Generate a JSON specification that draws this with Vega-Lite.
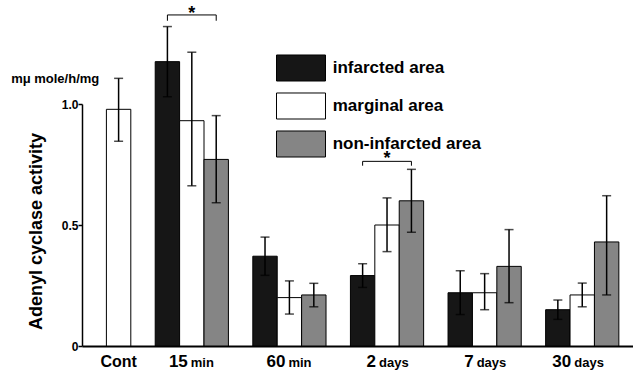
{
  "$schema": "https://vega.github.io/schema/vega-lite/v6.json",
  "width": 551,
  "height": 242,
  "autosize": "none",
  "padding": {"left": 82, "top": 104, "right": 0, "bottom": 26},
  "background": "white",
  "config": {
    "view": {"stroke": null},
    "font": "Liberation Sans",
    "text": {"font": "Liberation Sans", "fontWeight": "bold", "color": "black"}
  },
  "datasets": {
    "bars": [
      {"bar": "Cont|marginal area", "time": "Cont", "area": "marginal area", "mean": 0.978, "lo": 0.846, "hi": 1.106},
      {"bar": "15 min|infarcted area", "time": "15 min", "area": "infarcted area", "mean": 1.175, "lo": 1.03, "hi": 1.32},
      {"bar": "15 min|marginal area", "time": "15 min", "area": "marginal area", "mean": 0.931, "lo": 0.662, "hi": 1.214},
      {"bar": "15 min|non-infarcted area", "time": "15 min", "area": "non-infarcted area", "mean": 0.771, "lo": 0.592, "hi": 0.952},
      {"bar": "60 min|infarcted area", "time": "60 min", "area": "infarcted area", "mean": 0.371, "lo": 0.292, "hi": 0.45},
      {"bar": "60 min|marginal area", "time": "60 min", "area": "marginal area", "mean": 0.2, "lo": 0.132, "hi": 0.269},
      {"bar": "60 min|non-infarcted area", "time": "60 min", "area": "non-infarcted area", "mean": 0.211, "lo": 0.162, "hi": 0.259},
      {"bar": "2 days|infarcted area", "time": "2 days", "area": "infarcted area", "mean": 0.291, "lo": 0.242, "hi": 0.34},
      {"bar": "2 days|marginal area", "time": "2 days", "area": "marginal area", "mean": 0.5, "lo": 0.39, "hi": 0.612},
      {"bar": "2 days|non-infarcted area", "time": "2 days", "area": "non-infarcted area", "mean": 0.6, "lo": 0.47, "hi": 0.73},
      {"bar": "7 days|infarcted area", "time": "7 days", "area": "infarcted area", "mean": 0.22, "lo": 0.13, "hi": 0.311},
      {"bar": "7 days|marginal area", "time": "7 days", "area": "marginal area", "mean": 0.22, "lo": 0.15, "hi": 0.299},
      {"bar": "7 days|non-infarcted area", "time": "7 days", "area": "non-infarcted area", "mean": 0.329, "lo": 0.179, "hi": 0.481},
      {"bar": "30 days|infarcted area", "time": "30 days", "area": "infarcted area", "mean": 0.15, "lo": 0.11, "hi": 0.19},
      {"bar": "30 days|marginal area", "time": "30 days", "area": "marginal area", "mean": 0.211, "lo": 0.162, "hi": 0.26},
      {"bar": "30 days|non-infarcted area", "time": "30 days", "area": "non-infarcted area", "mean": 0.43, "lo": 0.211, "hi": 0.621}
    ],
    "brackets": [
      {"from": "15 min|infarcted area", "to": "15 min|non-infarcted area", "mid": "15 min|marginal area", "y": 1.368, "yend": 1.344, "ystar": 1.391},
      {"from": "2 days|infarcted area", "to": "2 days|non-infarcted area", "mid": "2 days|marginal area", "y": 0.763, "yend": 0.745, "ystar": 0.792}
    ],
    "labels": [
      {"bar": "Cont|marginal area", "num": "Cont", "unit": ""},
      {"bar": "15 min|marginal area", "num": "15", "unit": "min"},
      {"bar": "60 min|marginal area", "num": "60", "unit": "min"},
      {"bar": "2 days|marginal area", "num": "2", "unit": "days"},
      {"bar": "7 days|marginal area", "num": "7", "unit": "days"},
      {"bar": "30 days|marginal area", "num": "30", "unit": "days"}
    ]
  },
  "layer": [
    {
      "data": {"name": "bars"},
      "mark": {"type": "bar", "stroke": "black", "strokeWidth": 1},
      "encoding": {
        "x": {
          "field": "bar",
          "type": "nominal",
          "sort": null,
          "scale": {
            "domain": ["gap0", "Cont|marginal area", "gap1",
              "15 min|infarcted area", "15 min|marginal area", "15 min|non-infarcted area", "gap2",
              "60 min|infarcted area", "60 min|marginal area", "60 min|non-infarcted area", "gap3",
              "2 days|infarcted area", "2 days|marginal area", "2 days|non-infarcted area", "gap4",
              "7 days|infarcted area", "7 days|marginal area", "7 days|non-infarcted area", "gap5",
              "30 days|infarcted area", "30 days|marginal area", "30 days|non-infarcted area"],
            "paddingInner": 0,
            "paddingOuter": 0.29,
            "align": 0,
            "round": false
          },
          "axis": {
            "title": null,
            "labels": false,
            "ticks": false,
            "grid": false,
            "domain": true,
            "domainColor": "black",
            "domainWidth": 2
          }
        },
        "y": {
          "field": "mean",
          "type": "quantitative",
          "scale": {"domain": [0, 1], "nice": false, "zero": true},
          "axis": {
            "title": "Adenyl cyclase activity",
            "titleFont": "Liberation Sans",
            "titleFontSize": 18,
            "titleFontWeight": "bold",
            "titleColor": "black",
            "titleAngle": -90,
            "titleAlign": "center",
            "titleBaseline": "alphabetic",
            "titleX": -41,
            "titleY": 127,
            "values": [0, 0.5, 1],
            "labelExpr": "datum.value == 0 ? '0' : format(datum.value, '.1f')",
            "labelFont": "Liberation Sans",
            "labelFontSize": 12,
            "labelFontWeight": "bold",
            "labelColor": "black",
            "labelPadding": 0,
            "tickSize": 4,
            "tickColor": "black",
            "tickWidth": 1.5,
            "grid": false,
            "domainColor": "black",
            "domainWidth": 1.5
          }
        },
        "fill": {
          "field": "area",
          "type": "nominal",
          "scale": {
            "domain": ["infarcted area", "marginal area", "non-infarcted area"],
            "range": ["#161616", "#ffffff", "#858585"]
          },
          "legend": {
            "title": null,
            "orient": "none",
            "legendX": 197,
            "legendY": -58,
            "direction": "vertical",
            "padding": 0,
            "symbolType": "M-1.1395,-0.6047L1.1395,-0.6047L1.1395,0.6047L-1.1395,0.6047Z",
            "symbolSize": 1849,
            "symbolStrokeColor": "black",
            "symbolStrokeWidth": 1,
            "symbolOpacity": 1,
            "labelFont": "Liberation Sans",
            "labelFontSize": 17,
            "labelFontWeight": "bold",
            "labelColor": "black",
            "labelOffset": 9.7,
            "rowPadding": 0
          }
        }
      }
    },
    {
      "data": {"name": "bars"},
      "mark": {"type": "rule", "color": "black", "strokeWidth": 1.5},
      "encoding": {
        "x": {"field": "bar", "type": "nominal"},
        "y": {"field": "lo", "type": "quantitative"},
        "y2": {"field": "hi"}
      }
    },
    {
      "data": {"name": "bars"},
      "mark": {"type": "tick", "color": "black", "size": 9, "thickness": 1.5, "orient": "horizontal"},
      "encoding": {
        "x": {"field": "bar", "type": "nominal"},
        "y": {"field": "hi", "type": "quantitative"}
      }
    },
    {
      "data": {"name": "bars"},
      "mark": {"type": "tick", "color": "black", "size": 9, "thickness": 1.5, "orient": "horizontal"},
      "encoding": {
        "x": {"field": "bar", "type": "nominal"},
        "y": {"field": "lo", "type": "quantitative"}
      }
    },
    {
      "data": {"name": "brackets"},
      "mark": {"type": "rule", "color": "black", "strokeWidth": 1},
      "encoding": {
        "x": {"field": "from", "type": "nominal"},
        "x2": {"field": "to"},
        "y": {"field": "y", "type": "quantitative"}
      }
    },
    {
      "data": {"name": "brackets"},
      "mark": {"type": "rule", "color": "black", "strokeWidth": 1},
      "encoding": {
        "x": {"field": "from", "type": "nominal"},
        "y": {"field": "y", "type": "quantitative"},
        "y2": {"field": "yend"}
      }
    },
    {
      "data": {"name": "brackets"},
      "mark": {"type": "rule", "color": "black", "strokeWidth": 1},
      "encoding": {
        "x": {"field": "to", "type": "nominal"},
        "y": {"field": "y", "type": "quantitative"},
        "y2": {"field": "yend"}
      }
    },
    {
      "data": {"name": "brackets"},
      "mark": {"type": "text", "fontSize": 18, "baseline": "middle", "align": "center", "dy": 4.5},
      "encoding": {
        "x": {"field": "mid", "type": "nominal"},
        "y": {"field": "ystar", "type": "quantitative"},
        "text": {"value": "*"}
      }
    },
    {
      "data": {"name": "labels"},
      "transform": [{"filter": "datum.unit == ''"}],
      "mark": {"type": "text", "fontSize": 13, "align": "center", "baseline": "alphabetic", "dx": -39},
      "encoding": {
        "x": {"datum": "gap0"},
        "y": {"datum": 1.088},
        "text": {"value": "mμ mole/h/mg"}
      }
    },
    {
      "data": {"name": "labels"},
      "transform": [{"filter": "datum.unit == ''"}],
      "mark": {"type": "text", "fontSize": 16, "align": "center", "baseline": "alphabetic"},
      "encoding": {
        "x": {"field": "bar", "type": "nominal"},
        "y": {"datum": -0.0855},
        "text": {"field": "num"}
      }
    },
    {
      "data": {"name": "labels"},
      "transform": [{"filter": "datum.unit == 'min'"}],
      "mark": {"type": "text", "fontSize": 17, "align": "right", "baseline": "alphabetic", "dx": -4},
      "encoding": {
        "x": {"field": "bar", "type": "nominal"},
        "y": {"datum": -0.0855},
        "text": {"field": "num"}
      }
    },
    {
      "data": {"name": "labels"},
      "transform": [{"filter": "datum.unit == 'min'"}],
      "mark": {"type": "text", "fontSize": 13, "align": "left", "baseline": "alphabetic", "dx": -1},
      "encoding": {
        "x": {"field": "bar", "type": "nominal"},
        "y": {"datum": -0.0855},
        "text": {"field": "unit"}
      }
    },
    {
      "data": {"name": "labels"},
      "transform": [{"filter": "datum.unit == 'days'"}],
      "mark": {"type": "text", "fontSize": 17, "align": "right", "baseline": "alphabetic", "dx": -11},
      "encoding": {
        "x": {"field": "bar", "type": "nominal"},
        "y": {"datum": -0.0855},
        "text": {"field": "num"}
      }
    },
    {
      "data": {"name": "labels"},
      "transform": [{"filter": "datum.unit == 'days'"}],
      "mark": {"type": "text", "fontSize": 13, "align": "left", "baseline": "alphabetic", "dx": -8},
      "encoding": {
        "x": {"field": "bar", "type": "nominal"},
        "y": {"datum": -0.0855},
        "text": {"field": "unit"}
      }
    }
  ]
}
